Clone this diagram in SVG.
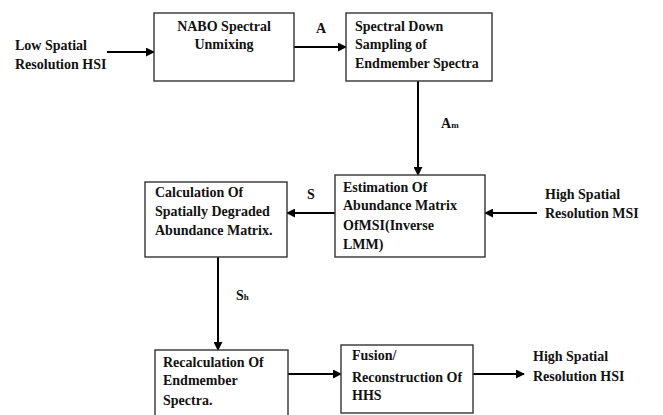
<svg xmlns="http://www.w3.org/2000/svg" width="663" height="415" viewBox="0 0 663 415">
<style>
.box{fill:#fff;stroke:#333;stroke-width:1.4}
.t{font-family:"Liberation Serif","Times New Roman",serif;font-weight:bold;font-size:14px;fill:#111}
.c{stroke:#000;stroke-width:2;fill:none;marker-end:url(#ah)}
</style>
<defs>
<marker id="ah" viewBox="0 0 10 10" refX="9" refY="5" markerWidth="4.5" markerHeight="4.5" orient="auto" markerUnits="strokeWidth">
<path d="M0,0 L10,5 L0,10 z" fill="#000"/>
</marker>
</defs>
<rect width="663" height="415" fill="#fff"/>
<g id="connectors">
<line class="c" x1="107" y1="52" x2="154" y2="52"/>
<line class="c" x1="294" y1="47" x2="346" y2="47"/>
<line class="c" x1="418" y1="81" x2="418" y2="175"/>
<line class="c" x1="335" y1="213" x2="287" y2="213"/>
<line class="c" x1="537" y1="213" x2="485" y2="213"/>
<line class="c" x1="218" y1="257" x2="218" y2="350"/>
<line class="c" x1="288" y1="374" x2="341" y2="374"/>
<line class="c" x1="473" y1="374" x2="524" y2="374"/>
<text class="t" x="316" y="33">A</text>
<text class="t" x="441" y="128">A<tspan font-size="9">m</tspan></text>
<text class="t" x="307" y="199">S</text>
<text class="t" x="236" y="300">S<tspan font-size="9">h</tspan></text>
</g>
<g id="in-hsi">
<text class="t" x="15" y="50">Low  Spatial</text>
<text class="t" x="15" y="69">Resolution HSI</text>
</g>
<g id="nabo">
<rect class="box" x="154" y="13" width="140" height="68"/>
<text class="t" x="224" y="31" text-anchor="middle">NABO Spectral</text>
<text class="t" x="224" y="49" text-anchor="middle">Unmixing</text>
</g>
<g id="downsampling">
<rect class="box" x="346" y="13" width="146" height="68"/>
<text class="t" x="355" y="31">Spectral Down</text>
<text class="t" x="355" y="49">Sampling of</text>
<text class="t" x="355" y="68">Endmember Spectra</text>
</g>
<g id="estimation">
<rect class="box" x="335" y="175" width="150" height="82"/>
<text class="t" x="343" y="192">Estimation Of</text>
<text class="t" x="343" y="210">Abundance Matrix</text>
<text class="t" x="343" y="230">OfMSI(Inverse</text>
<text class="t" x="343" y="249">LMM)</text>
</g>
<g id="in-msi">
<text class="t" x="545" y="199">High Spatial</text>
<text class="t" x="545" y="218">Resolution MSI</text>
</g>
<g id="calculation">
<rect class="box" x="145" y="182" width="142" height="75"/>
<text class="t" x="155" y="197">Calculation Of</text>
<text class="t" x="155" y="216">Spatially Degraded</text>
<text class="t" x="155" y="235">Abundance Matrix.</text>
</g>
<g id="recalculation">
<rect class="box" x="155" y="350" width="133" height="72"/>
<text class="t" x="163" y="367">Recalculation Of</text>
<text class="t" x="163" y="385">Endmember</text>
<text class="t" x="163" y="405">Spectra.</text>
</g>
<g id="fusion">
<rect class="box" x="341" y="345" width="132" height="68"/>
<text class="t" x="352" y="360">Fusion/</text>
<text class="t" x="352" y="382">Reconstruction Of</text>
<text class="t" x="352" y="400">HHS</text>
</g>
<g id="out-hsi">
<text class="t" x="533" y="361">High Spatial</text>
<text class="t" x="533" y="381">Resolution HSI</text>
</g>
</svg>
